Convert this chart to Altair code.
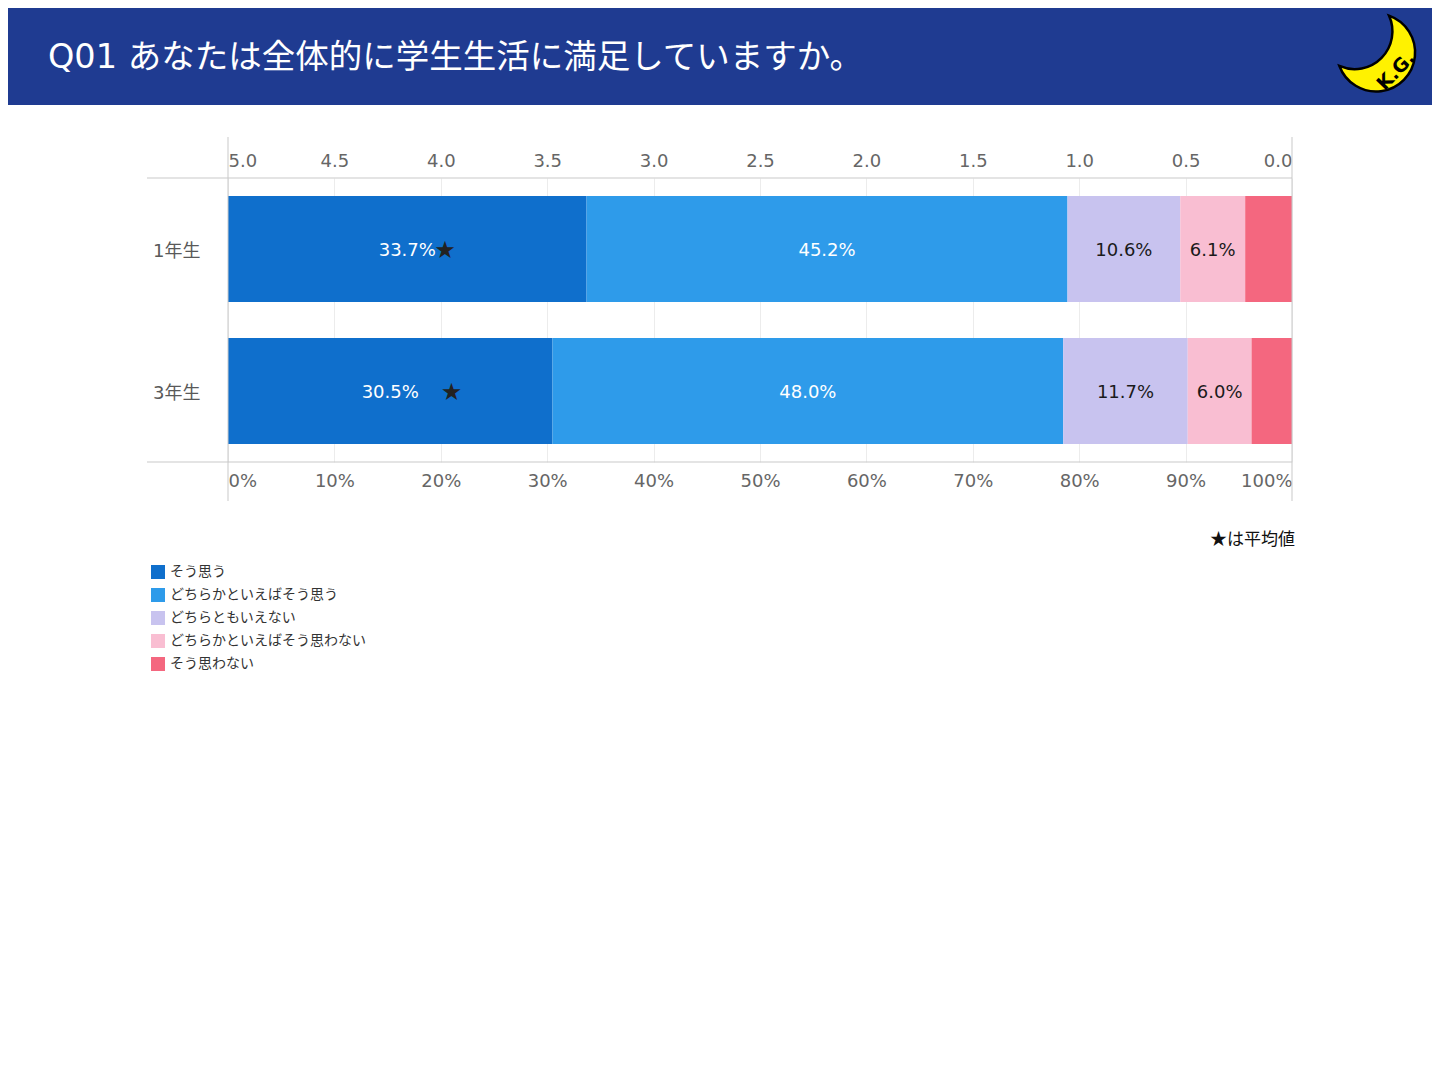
import altair as alt
import pandas as pd

# ---------------- data ----------------
grades = ['1年生', '3年生']
categories = ['そう思う', 'どちらかといえばそう思う', 'どちらともいえない',
              'どちらかといえばそう思わない', 'そう思わない']
colors = ['#0f6fcc', '#2e9bea', '#c8c3ef', '#f9bed2', '#f4677f']
pct_1nen = [33.7, 45.2, 10.6, 6.1, 4.4]
pct_3nen = [30.5, 48.0, 11.7, 6.0, 3.8]
averages = [3.98, 3.95]
score_ticks = [5.0, 4.5, 4.0, 3.5, 3.0, 2.5, 2.0, 1.5, 1.0, 0.5, 0.0]
pct_ticks = [0, 10, 20, 30, 40, 50, 60, 70, 80, 90, 100]
title_text = 'Q01 あなたは全体的に学生生活に満足していますか。'
note_text = '★は平均値'
logo_text = 'K.G.'

rows = []
for g, vals in zip(grades, [pct_1nen, pct_3nen]):
    for i, (c, v) in enumerate(zip(categories, vals)):
        rows.append(dict(grade=g, category=c, order=i, pct=v,
                         label=(f'{v:.1f}%' if i < 4 else '')))
df = pd.DataFrame(rows)
stars = pd.DataFrame({'grade': grades, 'avg': averages, 'star': ['★', '★']})
one = pd.DataFrame({'a': [0]})

JP = 'Noto Sans CJK JP'
LAT = 'DejaVu Sans, Noto Sans CJK JP'
W, H = 1064, 284
LINE = '#c9c9c9'

yenc = alt.Y('grade:N', sort=grades, title=None,
             scale=alt.Scale(domain=grades, paddingInner=0.2535, paddingOuter=0.127),
             axis=alt.Axis(domain=False, ticks=False, labelPadding=28, labelFontSize=18,
                           labelFont=LAT, labelColor='#595959', labelAngle=0,
                           labelOffset=3))

stacked = alt.Chart(df).transform_stack(
    stack='pct', groupby=['grade'], as_=['x0', 'x1'],
    sort=[alt.SortField('order', order='ascending')]
).transform_calculate(mid='(datum.x0 + datum.x1) / 2')

bars = stacked.mark_bar().encode(
    x=alt.X('x0:Q', scale=alt.Scale(domain=[0, 100]), title=None,
            axis=alt.Axis(values=pct_ticks, labelExpr="datum.value + '%'", orient='bottom',
                          domain=False, ticks=False, grid=True, gridColor='#ececec',
                          labelFlush=True, labelFontSize=18, labelFont=LAT,
                          labelColor='#666666', labelPadding=10)),
    x2='x1:Q',
    y=yenc,
    color=alt.Color('category:N', scale=alt.Scale(domain=categories, range=colors),
                    legend=alt.Legend(title=None, orient='none', legendX=-77, legendY=387,
                                      symbolType='square', symbolSize=196, symbolStrokeWidth=0,
                                      symbolOpacity=1, labelFont=JP, labelFontSize=14,
                                      labelColor='#333333', labelOffset=5, rowPadding=9,
                                      labelLimit=400)),
)

labels = stacked.mark_text(font=LAT, fontSize=18, dy=2).encode(
    x=alt.X('mid:Q', scale=alt.Scale(domain=[0, 100]), axis=None),
    y=yenc,
    text='label:N',
    color=alt.condition('datum.order < 2', alt.value('white'), alt.value('#1a1a1a')),
)

star_layer = alt.Chart(stars).mark_text(font='DejaVu Sans', fontSize=24, color='#222222',
                                        dy=2).encode(
    x=alt.X('avg:Q', scale=alt.Scale(domain=[5, 0]), title=None,
            axis=alt.Axis(values=score_ticks, format='.1f', orient='top', domain=False,
                          ticks=False, grid=False, labelFlush=True, labelFontSize=18,
                          labelFont=LAT, labelColor='#666666', labelPadding=8)),
    y=yenc,
    text='star:N',
)

def rule(x, x2, y, y2):
    return alt.Chart(one).mark_rule(color=LINE, strokeWidth=1).encode(
        x=alt.value(x), x2=alt.value(x2), y=alt.value(y), y2=alt.value(y2))

frame = [
    rule(0, 0, -41, 323),
    rule(W, W, -41, 323),
    rule(-81, W, 0, 0),
    rule(-81, W, H, H),
]

header = alt.Chart(one).mark_rect(color='#1f3b91').encode(
    x=alt.value(-220), x2=alt.value(1204), y=alt.value(-170), y2=alt.value(-73))

title = alt.Chart(one).mark_text(font=LAT, fontSize=33.5, color='white', align='left',
                                 baseline='alphabetic', text=title_text).encode(
    x=alt.value(-180), y=alt.value(-110))

moon_path = 'M0.38,-0.82 A0.93,0.93 0 1 1 -0.80,0.38 A0.9,0.9 0 0 0 0.38,-0.82 Z'
moon = alt.Chart(one).mark_point(shape=moon_path, size=7056, filled=True, fill='#fff200',
                                 stroke='black', strokeWidth=2.5, opacity=1).encode(
    x=alt.value(1145), y=alt.value(-128))
moon_text = alt.Chart(one).mark_text(font='DejaVu Sans', fontSize=19, fontWeight='bold',
                                     color='black', angle=314, text=logo_text).encode(
    x=alt.value(1168), y=alt.value(-107))

note = alt.Chart(one).mark_text(font=JP, fontSize=17, color='#111111', align='right',
                                baseline='middle', text=note_text).encode(
    x=alt.value(1067), y=alt.value(362))

chart = alt.layer(
    header, title, moon, moon_text, bars, labels, star_layer, *frame, note
).resolve_scale(x='independent').properties(
    width=W, height=H,
    padding={'left': 220, 'top': 170, 'right': 140, 'bottom': 618},
    autosize=alt.AutoSizeParams(type='none'),
    background='white',
).configure_view(stroke=None)

chart.save('out.html', embed_options={'renderer': 'svg', 'actions': False})
